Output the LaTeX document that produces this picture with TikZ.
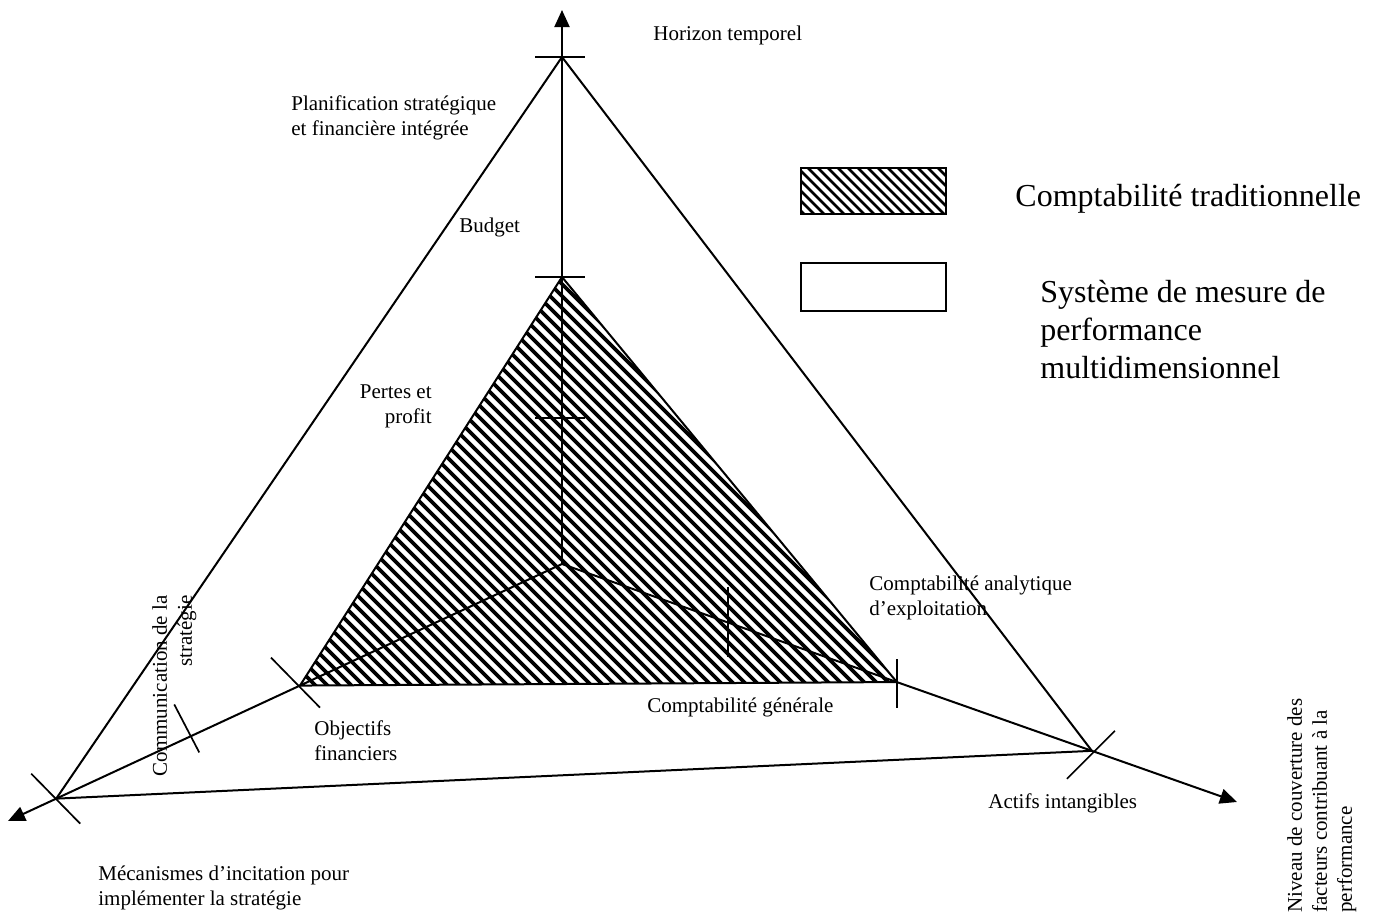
\documentclass[tikz,border=0pt]{standalone}
\usepackage{fontspec}
\setmainfont{Liberation Serif}
\usetikzlibrary{arrows.meta,calc}

\begin{document}
\begin{tikzpicture}[x=0.5pt,y=-0.5pt,
  axisline/.style={line width=1pt,-{Triangle[length=8.5pt,width=7.5pt]}},
  edgeline/.style={line width=1pt},
  tickline/.style={line width=0.85pt},
  hatchline/.style={line width=1.9pt},
  lbl/.style={font=\fontsize{10.5}{12.5}\selectfont, inner sep=0pt},
  biglbl/.style={font=\fontsize{16}{19}\selectfont, inner sep=0pt},
]
\useasboundingbox (0,0) rectangle (1378,916);

% axes: origin and arrow tips
\coordinate (O) at (562,564);
\coordinate (Ttip) at (562,10);
\coordinate (Ltip) at (8,821);
\coordinate (Rtip) at (1237,802);

% points on the axes
\coordinate (T1) at (562,277);
\coordinate (T2) at (562,57);
\coordinate (Tm) at (562,418);
\coordinate (L1) at ($(O)!0.473!(Ltip)$);
\coordinate (L2) at ($(O)!0.913!(Ltip)$);
\coordinate (Lm) at ($(O)!0.671!(Ltip)$);
\coordinate (R1) at ($(O)!0.496!(Rtip)$);
\coordinate (R2) at ($(O)!0.785!(Rtip)$);
\coordinate (Rm) at ($(O)!0.246!(Rtip)$);

% hatched inner triangle (traditional accounting)
\begin{scope}
  \clip (T1) -- (L1) -- (R1) -- cycle;
  \foreach \c in {-394,-382,...,300}
    \draw[hatchline] ({\c+250},250) -- ({\c+720},720);
\end{scope}
\draw[edgeline] (T1) -- (L1) -- (R1) -- cycle;

% outer triangle
\draw[edgeline] (T2) -- (L2) -- (R2) -- cycle;

% axes
\draw[axisline] (O) -- (Ttip);
\draw[axisline] (O) -- (Ltip);
\draw[axisline] (O) -- (Rtip);

% ticks
\draw[tickline] ($(T2)+(-27,0)$) -- ($(T2)+(23,0)$);
\draw[tickline] ($(T1)+(-27,0)$) -- ($(T1)+(23,0)$);
\draw[tickline] ($(Tm)+(-27,0)$) -- ($(Tm)+(23,0)$);
\draw[tickline] ($(L2)+(-25,-25)$) -- ($(L2)+(24,25)$);
\draw[tickline] ($(L1)+(-29,-28)$) -- ($(L1)+(20,22)$);
\draw[tickline] ($(Lm)+(-16,-32)$) -- ($(Lm)+(9,16)$);
\draw[tickline] ($(R1)+(0,-23)$) -- ($(R1)+(0,26)$);
\draw[tickline] ($(R2)+(23,-20)$) -- ($(R2)+(-25,28)$);
\draw[tickline] ($(Rm)+(0,-36)$) -- ($(Rm)+(0,34)$);

% legend
\begin{scope}
  \clip (800,167) rectangle (945,213);
  \foreach \c in {580,590,...,790}
    \draw[line width=1.4pt] ({\c+150},150) -- ({\c+230},230);
\end{scope}
\node[draw, line width=0.8pt, minimum width=72.5pt, minimum height=23pt, inner sep=0pt, anchor=north west] (boxA) at (800,167) {};
\node[draw, line width=0.8pt, minimum width=72.5pt, minimum height=24pt, inner sep=0pt, anchor=north west, fill=white] (boxB) at (800,262) {};
\node[biglbl, anchor=base west] (legA) at (1015,206) {Comptabilité traditionnelle};
\node[biglbl, anchor=base west, align=left] (legB) at (1040,378) {Système de mesure de\\performance\\multidimensionnel};

% labels (multi-line nodes are placed by the baseline of their last line)
\node[lbl, anchor=base west] (horizon) at (653,40) {Horizon temporel};
\node[lbl, anchor=base west, align=left] (planif) at (291,135) {Planification stratégique\\et financière intégrée};
\node[lbl, anchor=base west] (budget) at (459,232) {Budget};
\node[lbl, anchor=base east, align=right] (pertes) at (432,423) {Pertes et\\profit};
\node[lbl, anchor=base west, align=left] (analytique) at (869,615) {Comptabilité analytique\\d’exploitation};
\node[lbl, anchor=base west] (generale) at (647,712) {Comptabilité générale};
\node[lbl, anchor=base west, align=left] (objectifs) at (314,760) {Objectifs\\financiers};
\node[lbl, anchor=base west] (actifs) at (988,808) {Actifs intangibles};
\node[lbl, anchor=base west, align=left] (mecanismes) at (98,905) {Mécanismes d’incitation pour\\implémenter la stratégie};
\node[lbl, rotate=90, anchor=north east, align=right] (communication) at (152,595) {Communication de la\\stratégie};
\node[lbl, rotate=90, anchor=north west, align=left] (niveau) at (1287,913) {Niveau de couverture des\\facteurs contribuant à la\\performance};
\end{tikzpicture}
\end{document}
